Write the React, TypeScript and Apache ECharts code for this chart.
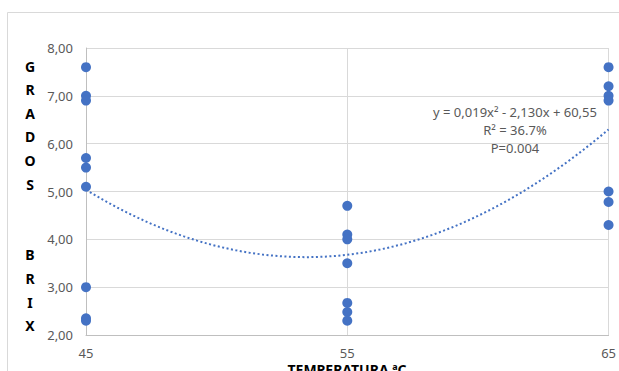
import React, { useEffect, useRef } from "react";
import * as echarts from "echarts";

// Temperatures (x categories) and Brix readings per temperature
const TEMPS = ["45", "55", "65"];
const BRIX_45 = [7.6, 7.0, 6.9, 5.7, 5.5, 5.1, 3.0, 2.35, 2.3];
const BRIX_55 = [4.7, 4.1, 4.0, 3.5, 2.67, 2.48, 2.3];
const BRIX_65 = [7.6, 7.2, 7.0, 6.9, 5.0, 4.78, 4.3];
// Polynomial trend line (order 2)
const TREND_A = 0.0199;
const TREND_B = -2.126;
const TREND_C = 60.41;
const TREND_X_MIN = 45;
const TREND_X_MAX = 65;
const EQUATION_LINES = ["y = 0,019x² - 2,130x + 60,55", "R² = 36.7%", "P=0.004"];
const Y_TITLE = ["G", "R", "A", "D", "O", "S", "", "", "B", "R", "I", "X"];
const X_TITLE = "TEMPERATURA ªC";

const FONT = "'Noto Sans', 'Liberation Sans', sans-serif";
const BLUE = "#4472C4";

export default function App() {
  const ref = useRef<HTMLDivElement>(null);
  useEffect(() => {
    document.body.style.margin = "0";
    if (!ref.current) return;
    const chart = echarts.init(ref.current, undefined, { renderer: "svg" });

    const points: number[][] = [];
    const groups = [BRIX_45, BRIX_55, BRIX_65];
    groups.forEach((g, i) => g.forEach((v) => points.push([Number(TEMPS[i]), v])));

    const trend: number[][] = [];
    for (let x = TREND_X_MIN; x <= TREND_X_MAX + 1e-9; x += 0.25) {
      trend.push([x, TREND_A * x * x + TREND_B * x + TREND_C]);
    }

    const yTitleElems = Y_TITLE.map((ch, i) => ({
      type: "text",
      x: 30,
      y: 66 + i * 23.6,
      style: {
        text: ch,
        font: `bold 14px ${FONT}`,
        fill: "#000",
        textAlign: "center",
        textVerticalAlign: "middle",
      },
    })).filter((e) => e.style.text !== "");

    chart.setOption({
      animation: false,
      backgroundColor: "#fff",
      grid: { left: 86, right: 10, top: 48, bottom: 36, containLabel: false },
      xAxis: [
        {
          type: "category",
          data: TEMPS,
          boundaryGap: false,
          axisLine: { show: true, lineStyle: { color: "#bfbfbf", width: 1 } },
          axisTick: { show: false },
          axisLabel: { color: "#595959", fontSize: 13, fontFamily: FONT, margin: 11 },
          splitLine: { show: true, lineStyle: { color: "#d9d9d9", width: 1 } },
        },
        {
          type: "value",
          min: TREND_X_MIN,
          max: TREND_X_MAX,
          show: false,
          splitLine: { show: false },
        },
      ],
      yAxis: {
        type: "value",
        min: 2,
        max: 8,
        interval: 1,
        axisLine: { show: true, lineStyle: { color: "#bfbfbf", width: 1 } },
        axisTick: { show: false },
        axisLabel: {
          color: "#595959",
          fontSize: 13,
          fontFamily: FONT,
          margin: 13,
          formatter: (v: number) => v.toFixed(2).replace(".", ","),
        },
        splitLine: { show: true, lineStyle: { color: "#d9d9d9", width: 1 } },
      },
      graphic: [
        {
          type: "rect",
          shape: { x: 7.5, y: 12.5, width: 800, height: 600 },
          style: { fill: "none", stroke: "#d9d9d9", lineWidth: 1 },
          silent: true,
        },
        ...yTitleElems,
        {
          type: "text",
          x: 347,
          y: 369,
          style: {
            text: X_TITLE,
            font: `bold 14px ${FONT}`,
            fill: "#000",
            textAlign: "center",
            textVerticalAlign: "middle",
          },
        },
        ...EQUATION_LINES.map((t, i) => ({
          type: "text",
          x: 515,
          y: 112 + i * 18,
          style: {
            text: t,
            font: `13px ${FONT}`,
            fill: "#595959",
            textAlign: "center",
            textVerticalAlign: "middle",
          },
        })),
      ],
      series: [
        {
          type: "line",
          xAxisIndex: 1,
          data: trend,
          showSymbol: false,
          smooth: false,
          lineStyle: { color: BLUE, width: 2, type: [2, 2.5] },
          z: 3,
        },
        {
          type: "scatter",
          xAxisIndex: 1,
          data: points,
          symbolSize: 10,
          itemStyle: { color: BLUE, opacity: 1 },
          z: 4,
        },
      ],
    });
    return () => chart.dispose();
  }, []);
  return <div ref={ref} style={{ width: 619, height: 371 }} />;
}
